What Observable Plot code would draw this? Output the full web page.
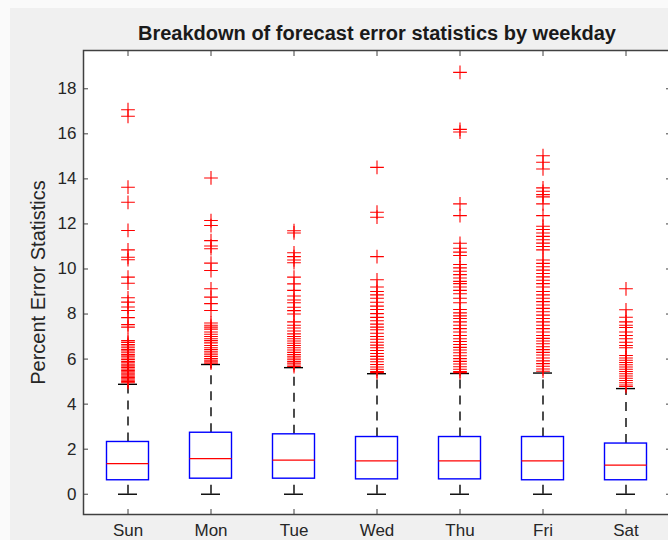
<!DOCTYPE html>
<html>
<head>
<meta charset="utf-8">
<script src="https://cdn.jsdelivr.net/npm/d3@7"></script>
<script src="https://cdn.jsdelivr.net/npm/@observablehq/plot@0.6"></script>
<style>
html, body { margin: 0; padding: 0; background: #fafafa; }
#bg { position: absolute; left: 10px; top: 8px; width: 658px; height: 532px; background: #f0f0f0; }
#chart { position: absolute; left: 0; top: 0; }
</style>
</head>
<body>
<div id="bg"></div>
<div id="chart"></div>
<script>
const title = "Breakdown of forecast error statistics by weekday";
const yLabel = "Percent Error Statistics";
const days = ["Sun", "Mon", "Tue", "Wed", "Thu", "Fri", "Sat"];
const yTicks = [0, 2, 4, 6, 8, 10, 12, 14, 16, 18];

const q1 =          [0.62, 0.69, 0.69, 0.66, 0.66, 0.62, 0.62];
const median =      [1.36, 1.58, 1.51, 1.48, 1.48, 1.48, 1.29];
const q3 =          [2.32, 2.73, 2.66, 2.54, 2.54, 2.54, 2.25];
const whiskerLow =  [0, 0, 0, 0, 0, 0, 0];
const whiskerHigh = [4.88, 5.76, 5.62, 5.35, 5.36, 5.38, 4.69];

const outliersSun = [17.07, 16.78, 13.63, 12.96, 11.71, 10.85, 10.52, 10.41, 9.64, 9.37, 8.72, 8.53, 8.31, 8.16, 7.84, 7.53, 7.42,
  6.82, 6.74, 6.65, 6.58, 6.5, 6.42, 6.36, 6.28, 6.2, 6.13, 6.05, 5.98, 5.9, 5.84, 5.77, 5.7, 5.63, 5.56, 5.5, 5.43, 5.37, 5.3, 5.24, 5.18, 5.12, 5.06, 5.0, 4.95];
const outliersMon = [14.04, 12.15, 11.93, 11.26, 11.02, 10.9, 10.26, 9.93, 9.12, 8.75, 8.46, 8.16,
  7.6, 7.5, 7.42, 7.33, 7.2, 7.1, 7.0, 6.9, 6.82, 6.72, 6.6, 6.5, 6.42, 6.32, 6.22, 6.12, 6.02, 5.95, 5.88, 5.82];
const outliersTue = [11.7, 11.6, 10.72, 10.55, 10.4, 10.28, 9.64, 9.34, 9.05, 8.8, 8.62, 8.5, 8.3, 8.15, 8.0,
  7.65, 7.5, 7.38, 7.25, 7.12, 7.0, 6.9, 6.8, 6.7, 6.6, 6.5, 6.4, 6.3, 6.2, 6.1, 6.0, 5.9, 5.82, 5.74, 5.67];
const outliersWed = [14.51, 12.52, 12.3, 10.55, 9.52, 9.2, 9.0, 8.85, 8.7, 8.52, 8.35, 8.2, 8.02, 7.85, 7.7, 7.55, 7.42,
  7.3, 7.15, 7.0, 6.88, 6.75, 6.62, 6.5, 6.38, 6.25, 6.12, 6.0, 5.88, 5.76, 5.65, 5.55, 5.45, 5.4];
const outliersThu = [18.73, 16.2, 16.08, 12.89, 12.37, 11.14, 10.92, 10.75, 10.6, 10.2, 10.05, 9.9, 9.75, 9.6, 9.45, 9.35,
  9.2, 9.05, 8.9, 8.7, 8.5, 8.2, 8.05, 7.92, 7.8, 7.65, 7.5, 7.35, 7.2, 7.05, 6.9, 6.78, 6.65, 6.52, 6.4, 6.28, 6.15, 6.02,
  5.9, 5.78, 5.66, 5.55, 5.45, 5.4];
const outliersFri = [15.03, 14.74, 14.44, 13.6, 13.45, 13.3, 13.2, 12.89, 12.37, 11.9, 11.75, 11.6, 11.45, 11.3, 11.15, 11.0,
  10.85, 10.4, 10.25, 10.1, 9.95, 9.8, 9.65, 9.5, 9.35, 9.2, 9.0, 8.85, 8.7, 8.55, 8.4, 8.25, 8.1, 7.95, 7.8, 7.65, 7.5,
  7.35, 7.2, 7.05, 6.92, 6.8, 6.68, 6.55, 6.42, 6.3, 6.18, 6.05, 5.92, 5.8, 5.68, 5.56, 5.46];
const outliersSat = [9.12, 8.19, 7.86, 7.65, 7.5, 7.4, 7.2, 7.05, 6.9, 6.75, 6.6, 6.5, 6.16, 6.05, 5.95, 5.85, 5.75, 5.65,
  5.55, 5.45, 5.35, 5.25, 5.15, 5.05, 4.95, 4.85, 4.78];

const outlierLists = [outliersSun, outliersMon, outliersTue, outliersWed, outliersThu, outliersFri, outliersSat];

const boxes = days.map((d, i) => ({day: d, q1: q1[i], median: median[i], q3: q3[i], lo: whiskerLow[i], hi: whiskerHigh[i]}));
const outlierTable = days.flatMap((d, i) => outlierLists[i].map(v => ({day: d, value: v})));

const axisColor = "#404040";
const dash = "9,7";
const blank = () => "";

const chart = Plot.plot({
  width: 668,
  height: 540,
  marginLeft: 83,
  marginRight: -2,
  marginTop: 50,
  marginBottom: 26,
  style: {fontFamily: "Liberation Sans, Arial, sans-serif", fontSize: "17px", color: "#262626", background: "transparent", overflow: "visible"},
  x: {type: "band", domain: days, padding: 0},
  y: {domain: [-0.9, 19.7]},
  marks: [
    Plot.frame({fill: "white"}),
    Plot.ruleX(boxes, {x: "day", y1: "q3", y2: "hi", stroke: "#000", strokeWidth: 1.4, strokeDasharray: dash}),
    Plot.ruleX(boxes, {x: "day", y1: "lo", y2: "q1", stroke: "#000", strokeWidth: 1.4, strokeDasharray: dash}),
    Plot.tickY(boxes, {x: "day", y: "hi", insetLeft: 32, insetRight: 32, stroke: "#000", strokeWidth: 1.4}),
    Plot.tickY(boxes, {x: "day", y: "lo", insetLeft: 32, insetRight: 32, stroke: "#000", strokeWidth: 1.4}),
    Plot.barY(boxes, {x: "day", y1: "q1", y2: "q3", insetLeft: 20.5, insetRight: 20.5, fill: "none", stroke: "#0000ff", strokeWidth: 1.4}),
    Plot.tickY(boxes, {x: "day", y: "median", insetLeft: 20.5, insetRight: 20.5, stroke: "#ff0000", strokeWidth: 1.3}),
    Plot.dot(outlierTable, {x: "day", y: "value", symbol: "plus", r: 4.5, stroke: "#ff0000", strokeWidth: 1.1}),
    Plot.axisY(yTicks, {anchor: "left", tickSize: 0, tickPadding: 7, label: null, fontSize: 17}),
    Plot.axisY(yTicks, {anchor: "left", tickSize: 5, dx: 5, tickFormat: blank, label: null, stroke: axisColor}),
    Plot.axisY(yTicks, {anchor: "right", tickSize: 5, dx: -5, tickFormat: blank, label: null, stroke: axisColor}),
    Plot.axisX({anchor: "bottom", tickSize: 0, tickPadding: 9, label: null, fontSize: 17}),
    Plot.axisX({anchor: "bottom", tickSize: 5, dy: -5, tickFormat: blank, label: null, stroke: axisColor}),
    Plot.axisX({anchor: "top", tickSize: 5, dy: 5, tickFormat: blank, label: null, stroke: axisColor}),
    Plot.frame({stroke: axisColor, strokeWidth: 1.5}),
    Plot.text([title], {frameAnchor: "top", lineAnchor: "middle", textAnchor: "middle", dy: -17, fontSize: 20, fontWeight: "bold", fill: "#1a1a1a"}),
    Plot.text([yLabel], {frameAnchor: "left", lineAnchor: "middle", textAnchor: "middle", dx: -45, rotate: -90, fontSize: 20, fill: "#262626"})
  ]
});
document.getElementById("chart").appendChild(chart);
</script>
</body>
</html>
